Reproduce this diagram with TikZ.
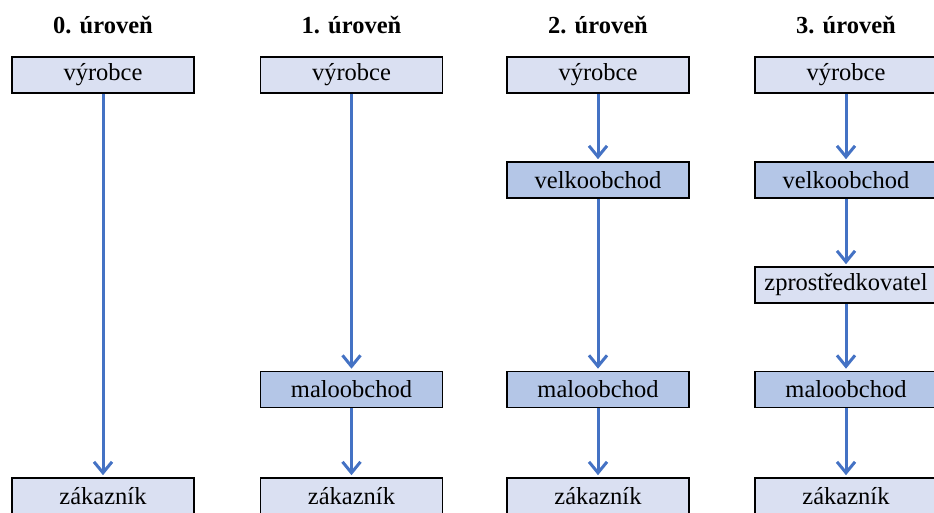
\documentclass[tikz,border=0pt]{standalone}
\usepackage{fontspec}
\setmainfont{Liberation Serif}
\usetikzlibrary{arrows.meta}

\definecolor{lightblue}{HTML}{DAE0F2}
\definecolor{darkblue}{HTML}{B4C6E7}
\definecolor{arrowblue}{HTML}{4472C4}

\begin{document}
\begin{tikzpicture}[x=1pt, y=-1pt,
	box/.style={draw, line width=1.6pt, minimum width=182pt, minimum height=36pt, inner sep=0pt, font=\fontsize{24.5}{28}\selectfont},
	light/.style={box, fill=lightblue},
	dark/.style={box, fill=darkblue},
	level/.style={font=\fontsize{24.5}{28}\selectfont\bfseries},
	flow/.style={-{Straight Barb[length=11pt, width=18pt]}, color=arrowblue, line width=3pt, shorten >=2pt}]
	\clip (0,0) rectangle (934,513);
	% columns: level title, producer on top, customer at the bottom
	\foreach \i/\x in {0/103, 1/351.5, 2/598, 3/846} {
		\node[level] (title\i) at (\x,25) {\i. úroveň};
		\node[light] (vyrobce\i) at (\x,75) {výrobce};
		\node[light] (zakaznik\i) at (\x,496) {zákazník};
	}
	% intermediaries
	\node[dark] (velko2) at (598,180) {velkoobchod};
	\node[dark] (velko3) at (846,180) {velkoobchod};
	\node[light] (zprost3) at (846,285) {zprostředkovatel};
	\node[dark] (malo1) at (351.5,389.5) {maloobchod};
	\node[dark] (malo2) at (598,389.5) {maloobchod};
	\node[dark] (malo3) at (846,389.5) {maloobchod};
	% channels
	\draw[flow] (vyrobce0) -- (zakaznik0);
	\draw[flow] (vyrobce1) -- (malo1);
	\draw[flow] (malo1) -- (zakaznik1);
	\draw[flow] (vyrobce2) -- (velko2);
	\draw[flow] (velko2) -- (malo2);
	\draw[flow] (malo2) -- (zakaznik2);
	\draw[flow] (vyrobce3) -- (velko3);
	\draw[flow] (velko3) -- (zprost3);
	\draw[flow] (zprost3) -- (malo3);
	\draw[flow] (malo3) -- (zakaznik3);
\end{tikzpicture}
\end{document}
